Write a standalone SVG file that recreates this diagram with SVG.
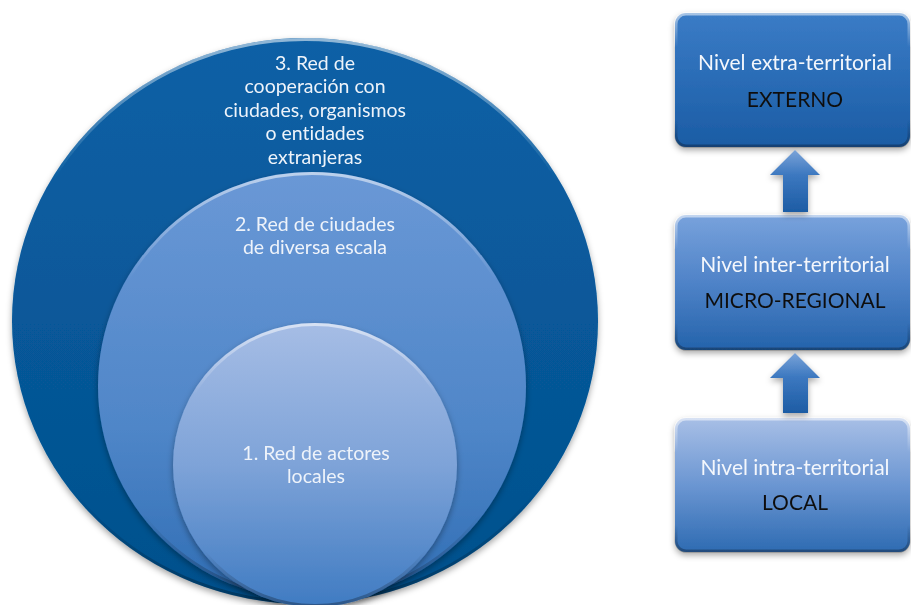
<svg xmlns="http://www.w3.org/2000/svg" width="911" height="605" viewBox="0 0 911 605">
<defs>
<linearGradient id="gOuter" x1="0" y1="0" x2="0" y2="1"><stop offset="0" stop-color="#0b60a6"/><stop offset="1" stop-color="#03508c"/></linearGradient>
<linearGradient id="gMid" x1="0" y1="0" x2="0" y2="1"><stop offset="0" stop-color="#6a98d6"/><stop offset="0.6" stop-color="#4f86c8"/><stop offset="1" stop-color="#2f6db4"/></linearGradient>
<linearGradient id="gInner" x1="0" y1="0" x2="0" y2="1"><stop offset="0" stop-color="#a6bde5"/><stop offset="0.5" stop-color="#7ea3d8"/><stop offset="1" stop-color="#3f7bc2"/></linearGradient>
<linearGradient id="gBox1" x1="0" y1="0" x2="0" y2="1"><stop offset="0" stop-color="#3b7cc6"/><stop offset="0.5" stop-color="#2a6cb6"/><stop offset="1" stop-color="#1b5ca4"/></linearGradient>
<linearGradient id="gBox2" x1="0" y1="0" x2="0" y2="1"><stop offset="0" stop-color="#78a2dc"/><stop offset="0.5" stop-color="#4f83c8"/><stop offset="1" stop-color="#2463ab"/></linearGradient>
<linearGradient id="gBox3" x1="0" y1="0" x2="0" y2="1"><stop offset="0" stop-color="#a8bfe6"/><stop offset="0.5" stop-color="#6b96d2"/><stop offset="1" stop-color="#2e6bb2"/></linearGradient>
<linearGradient id="gArrow" x1="0" y1="0" x2="0" y2="1"><stop offset="0" stop-color="#7aa3d8"/><stop offset="0.4" stop-color="#3c78c0"/><stop offset="1" stop-color="#1d5ca4"/></linearGradient>
<linearGradient id="gHi" x1="0" y1="0" x2="0" y2="1"><stop offset="0" stop-color="#ffffff" stop-opacity="0.55"/><stop offset="0.25" stop-color="#ffffff" stop-opacity="0"/><stop offset="0.8" stop-color="#000000" stop-opacity="0"/><stop offset="1" stop-color="#000000" stop-opacity="0.3"/></linearGradient>
<filter id="shadow" x="-10%" y="-10%" width="120%" height="130%"><feDropShadow dx="0" dy="3" stdDeviation="3" flood-color="#000" flood-opacity="0.35"/></filter>
</defs>
<style>
text{font-variant-ligatures:none}
.ct{font-family:Lato,"Open Sans",sans-serif;font-size:19.5px;fill:#eef3fa;text-anchor:middle}
.bt{font-family:Lato,"Open Sans",sans-serif;font-size:21px;text-anchor:middle}
.w{fill:#f4f7fc}
.k{fill:#111111}
.hi{fill:none;stroke:url(#gHi);stroke-width:3}
</style>
<g id="circle-outer" filter="url(#shadow)">
<ellipse cx="305" cy="321" rx="293" ry="283" fill="url(#gOuter)"/>
<ellipse cx="305" cy="321" rx="291.5" ry="281.5" class="hi"/>
<text class="ct" x="315" y="70">3. Red de</text>
<text class="ct" x="315" y="93">cooperación con</text>
<text class="ct" x="315" y="117">ciudades, organismos</text>
<text class="ct" x="315" y="140">o entidades</text>
<text class="ct" x="315" y="164">extranjeras</text>
</g>
<g id="circle-middle" filter="url(#shadow)">
<circle cx="312" cy="386" r="214" fill="url(#gMid)"/>
<circle cx="312" cy="386" r="212.5" class="hi"/>
<text class="ct" x="315" y="231">2. Red de ciudades</text>
<text class="ct" x="315" y="254">de diversa escala</text>
</g>
<g id="circle-inner" filter="url(#shadow)">
<circle cx="315" cy="465" r="142" fill="url(#gInner)"/>
<circle cx="315" cy="465" r="140.5" class="hi"/>
<text class="ct" x="316" y="460">1. Red de actores</text>
<text class="ct" x="316" y="483">locales</text>
</g>
<g id="box-externo" filter="url(#shadow)">
<rect x="675" y="13" width="235" height="134" rx="11" fill="url(#gBox1)"/>
<rect x="676" y="14" width="233" height="132" rx="10" class="hi"/>
<text class="bt w" x="795" y="70">Nivel extra-territorial</text>
<text class="bt k" x="795" y="107">EXTERNO</text>
</g>
<g id="box-micro" filter="url(#shadow)">
<rect x="675" y="215" width="235" height="135" rx="11" fill="url(#gBox2)"/>
<rect x="676" y="216" width="233" height="133" rx="10" class="hi"/>
<text class="bt w" x="795" y="272">Nivel inter-territorial</text>
<text class="bt k" x="795" y="308">MICRO-REGIONAL</text>
</g>
<g id="box-local" filter="url(#shadow)">
<rect x="675" y="418" width="235" height="134" rx="11" fill="url(#gBox3)"/>
<rect x="676" y="419" width="233" height="132" rx="10" class="hi"/>
<text class="bt w" x="795" y="475">Nivel intra-territorial</text>
<text class="bt k" x="795" y="510">LOCAL</text>
</g>
<g id="connectors" filter="url(#shadow)">
<path d="M795 150 L820 175 L808 175 L808 212 L783 212 L783 175 L770 175 Z" fill="url(#gArrow)"/>
<path d="M795 353 L820 378 L808 378 L808 413 L783 413 L783 378 L770 378 Z" fill="url(#gArrow)"/>
</g>
</svg>
